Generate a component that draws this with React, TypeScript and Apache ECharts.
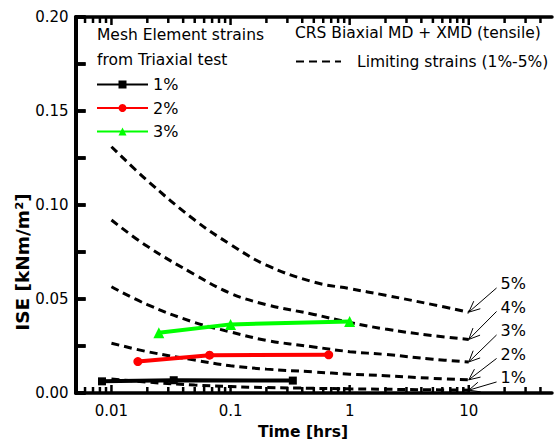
import React, { useEffect, useRef } from "react";
import * as echarts from "echarts";

// ---- data ----
const limitTimes = [0.01, 0.02, 0.05, 0.1, 0.2, 0.5, 1, 2, 5, 10];
const limit1 = [0.0075, 0.0058, 0.0042, 0.0034, 0.0029, 0.0025, 0.0022, 0.002, 0.0017, 0.0015];
const limit2 = [0.0265, 0.022, 0.0175, 0.0145, 0.0127, 0.0112, 0.01, 0.0092, 0.0078, 0.007];
const limit3 = [0.0565, 0.047, 0.0375, 0.0325, 0.028, 0.0245, 0.022, 0.0205, 0.018, 0.0165];
const limit4 = [0.092, 0.078, 0.063, 0.053, 0.047, 0.0418, 0.0375, 0.034, 0.0305, 0.0285];
const limit5 = [0.131, 0.113, 0.092, 0.079, 0.068, 0.059, 0.0555, 0.052, 0.047, 0.043];
const limitLabels = ["1%", "2%", "3%", "4%", "5%"];

const strain1Time = [1 / 120, 1 / 30, 1 / 3];
const strain1Ise = [0.0062, 0.0068, 0.0066];
const strain2Time = [1 / 60, 1 / 15, 2 / 3];
const strain2Ise = [0.0167, 0.0201, 0.0203];
const strain3Time = [1 / 40, 0.1, 1];
const strain3Ise = [0.032, 0.0365, 0.038];

// axis ticks
const yTicks = [0, 0.05, 0.1, 0.15, 0.2];
const yMinorTicks = [0.025, 0.075, 0.125, 0.175];
const xMajorTicks = [0.01, 0.1, 1, 10];
const xMinorTicks = [
  0.006, 0.007, 0.008, 0.009,
  0.02, 0.03, 0.04, 0.05, 0.06, 0.07, 0.08, 0.09,
  0.2, 0.3, 0.4, 0.5, 0.6, 0.7, 0.8, 0.9,
  2, 3, 4, 5, 6, 7, 8, 9,
  20, 30, 40,
];

const FONT = "DejaVu Sans";
const LIMIT_NAME = "Limiting strains (1%-5%)";

export default function App() {
  const ref = useRef<HTMLDivElement>(null);
  useEffect(() => {
    if (!ref.current) return;
    const chart = echarts.init(ref.current, undefined, { renderer: "svg" });
    const zip = (xs: number[], ys: number[]) => xs.map((x, i) => [x, ys[i]]);
    const limits = [limit1, limit2, limit3, limit4, limit5];
    const Y_MIN = yTicks[0];
    const Y_MAX = yTicks[yTicks.length - 1];
    const X_MIN = 0.005;
    const X_MAX = 50;
    const allYTicks = [...yTicks, ...yMinorTicks];

    const limitSeries = limits.map((arr) => ({
      type: "line",
      name: LIMIT_NAME,
      data: zip(limitTimes, arr),
      showSymbol: false,
      symbol: "none",
      smooth: 0.4,
      z: 2,
      lineStyle: { color: "#000", width: 3, type: [8, 5] },
      itemStyle: { color: "#000" },
    }));

    // annotation label anchors (layout)
    const labelX = 18.5;
    const labelY = [0.008, 0.0205, 0.033, 0.0455, 0.058];
    const annotData = limits.map((arr, i) => [
      limitTimes[limitTimes.length - 1],
      arr[arr.length - 1],
      labelX,
      labelY[i],
    ]);

    const mkData = (
      name: string,
      xs: number[],
      ys: number[],
      color: string,
      symbol: string,
      size: number
    ) => ({
      type: "line",
      name,
      data: zip(xs, ys),
      symbol,
      symbolSize: size,
      showSymbol: true,
      z: 4,
      lineStyle: { color, width: 4 },
      itemStyle: { color },
    });

    const xCommon = {
      type: "log",
      min: X_MIN,
      max: X_MAX,
      splitLine: { show: false },
      axisLine: { show: true, lineStyle: { color: "#000", width: 3.5 } },
      axisTick: { show: false },
      minorTick: { show: false },
      minorSplitLine: { show: false },
    };

    // tick marks: [x, y, kind]
    const xTickData = [
      ...xMajorTicks.map((v) => [v, Y_MIN, 1]),
      ...xMinorTicks.map((v) => [v, Y_MIN, 0]),
    ];

    chart.setOption({
      animation: false,
      textStyle: { fontFamily: FONT, color: "#000" },
      grid: { left: 75.6, top: 17, width: 484, height: 376, containLabel: false },
      xAxis: [
        {
          ...xCommon,
          position: "bottom",
          axisLabel: {
            show: true,
            fontSize: 15,
            color: "#000",
            fontFamily: FONT,
            margin: 10,
            showMinLabel: false,
            formatter: (v: number) => {
              const e = Math.log10(v);
              if (Math.abs(e - Math.round(e)) > 1e-6) return "";
              return String(parseFloat(v.toPrecision(6)));
            },
          },
        },
        {
          ...xCommon,
          position: "top",
          axisLabel: { show: false },
        },
      ],
      yAxis: {
        type: "value",
        min: Y_MIN,
        max: Y_MAX,
        interval: 0.05,
        splitLine: { show: false },
        axisLine: { show: true, lineStyle: { color: "#000", width: 4 } },
        axisTick: { show: true, inside: true, length: 10, lineStyle: { color: "#000", width: 3.5 } },
        minorTick: { show: true, splitNumber: 2, length: 10, lineStyle: { color: "#000", width: 3.5 } },
        axisLabel: {
          fontSize: 15,
          color: "#000",
          fontFamily: FONT,
          margin: 7,
          formatter: (v: number) => v.toFixed(2),
        },
      },
      legend: [
        {
          data: ["1%", "2%", "3%"],
          orient: "vertical",
          left: 96,
          top: 75,
          padding: 0,
          itemWidth: 51,
          itemHeight: 10,
          itemGap: 4.5,
          textStyle: { fontSize: 16, color: "#000", fontFamily: FONT, lineHeight: 19 },
          selectedMode: false,
        },
        {
          data: [LIMIT_NAME],
          left: 295,
          top: 52,
          padding: 0,
          itemWidth: 45,
          itemHeight: 10,
          itemStyle: { opacity: 0 },
          textStyle: { fontSize: 15.5, color: "#000", fontFamily: FONT, padding: [0, 0, 0, 11], lineHeight: 19 },
          selectedMode: false,
        },
      ],
      graphic: [
        {
          type: "text",
          left: 97,
          top: 27,
          style: { text: "Mesh Element strains", font: `15.5px '${FONT}'`, fill: "#000" },
        },
        {
          type: "text",
          left: 97,
          top: 52,
          style: { text: "from Triaxial test", font: `15.5px '${FONT}'`, fill: "#000" },
        },
        {
          type: "text",
          left: 295,
          top: 25,
          style: { text: "CRS Biaxial MD + XMD (tensile)", font: `15.5px '${FONT}'`, fill: "#000" },
        },
        {
          type: "text",
          x: 303,
          y: 432,
          style: {
            text: "Time [hrs]",
            font: `bold 15.5px '${FONT}'`,
            fill: "#000",
            align: "center",
            verticalAlign: "middle",
          },
        },
        {
          type: "text",
          x: 22,
          y: 262,
          rotation: Math.PI / 2,
          style: {
            text: "ISE [kNm/m²]",
            font: `bold 18.5px '${FONT}'`,
            fill: "#000",
            align: "center",
            verticalAlign: "middle",
          },
        },
      ],
      series: [
        ...limitSeries,
        mkData("1%", strain1Time, strain1Ise, "#000000", "rect", 8),
        mkData("2%", strain2Time, strain2Ise, "#ff0000", "circle", 9),
        mkData("3%", strain3Time, strain3Ise, "#00ff00", "triangle", 11),
        {
          type: "custom",
          name: "axisTicks",
          data: xTickData,
          encode: { x: 0, y: 1 },
          z: 6,
          clip: false,
          silent: true,
          renderItem: (params: any, api: any) => {
            const v = api.value(0);
            const major = api.value(2) === 1;
            const len = major ? 8 : 6;
            const b = api.coord([v, Y_MIN]);
            const t = api.coord([v, Y_MAX]);
            const children: any[] = [
              {
                type: "line",
                shape: { x1: b[0], y1: b[1], x2: b[0], y2: b[1] - len },
                style: { stroke: "#000", lineWidth: 2.5 },
              },
              {
                type: "line",
                shape: { x1: t[0], y1: t[1], x2: t[0], y2: t[1] + len },
                style: { stroke: "#000", lineWidth: 2.5 },
              },
            ];
            if (params.dataIndex === 0) {
              // y-axis ticks, drawn once along the left axis
              let xLeft = api.coord([X_MIN, Y_MIN])[0];
              if (!isFinite(xLeft)) xLeft = params.coordSys.x;
              allYTicks.forEach((yv) => {
                const py = api.coord([1, yv])[1];
                children.push({
                  type: "line",
                  shape: { x1: xLeft, y1: py, x2: xLeft + 10, y2: py },
                  style: { stroke: "#000", lineWidth: 3.5 },
                });
              });
            }
            return { type: "group", children };
          },
        },
        {
          type: "custom",
          name: "annotations",
          data: annotData,
          z: 5,
          clip: false,
          renderItem: (params: any, api: any) => {
            const i = params.dataIndex;
            const head = api.coord([api.value(0), api.value(1)]);
            const lab = api.coord([api.value(2), api.value(3)]);
            const tail = [lab[0] - 4, lab[1] + 4];
            const dx = head[0] - tail[0];
            const dy = head[1] - tail[1];
            const len = Math.hypot(dx, dy) || 1;
            const ux = dx / len;
            const uy = dy / len;
            const ah = 11;
            const aw = 5;
            const p1 = [head[0] - ux * ah - uy * aw, head[1] - uy * ah + ux * aw];
            const p2 = [head[0] - ux * ah + uy * aw, head[1] - uy * ah - ux * aw];
            return {
              type: "group",
              children: [
                {
                  type: "line",
                  shape: { x1: tail[0], y1: tail[1], x2: head[0], y2: head[1] },
                  style: { stroke: "#000", lineWidth: 1 },
                },
                {
                  type: "polyline",
                  shape: { points: [p1, head, p2] },
                  style: { stroke: "#000", fill: null, lineWidth: 1 },
                },
                {
                  type: "text",
                  x: lab[0],
                  y: lab[1],
                  style: {
                    text: limitLabels[i],
                    font: `16px '${FONT}'`,
                    fill: "#000",
                    align: "left",
                    verticalAlign: "middle",
                  },
                },
              ],
            };
          },
        },
      ],
    });
    return () => chart.dispose();
  }, []);
  return (
    <div
      ref={ref}
      style={{ position: "fixed", left: 0, top: 0, width: 555, height: 443, background: "#fff" }}
    />
  );
}
